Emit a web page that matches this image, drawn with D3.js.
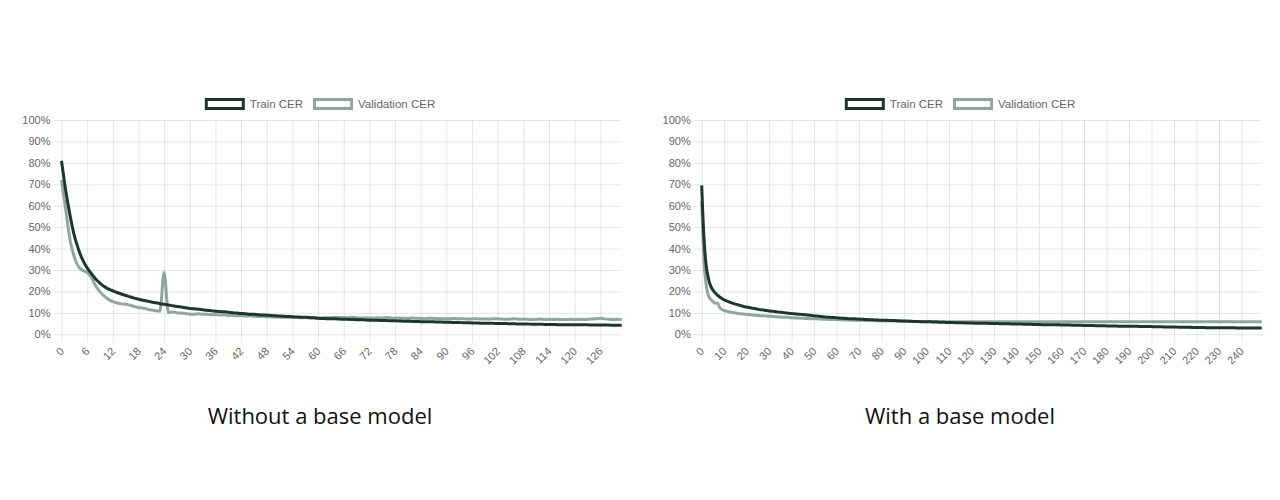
<!DOCTYPE html>
<html>
<head>
<meta charset="utf-8">
<script src="https://cdn.jsdelivr.net/npm/d3@7"></script>
<style>
  body {margin: 0; background: #fff;}
  svg {display: block;}
  .axis text {font-family: "Liberation Sans", Arial, sans-serif; font-size: 11px; fill: #666;}
  .legend text {font-family: "Liberation Sans", Arial, sans-serif; font-size: 11.5px; fill: #666;}
  .title {font-family: "Open Sans", sans-serif; font-size: 22px; fill: #111;}
</style>
</head>
<body>
<script>
// CER per epoch (%), left panel: trained from scratch
const trainNoBase = [
  81, 67, 55.5, 46, 39.5, 34.5, 31, 28.3, 25.8, 23.9,
  22.3, 21.1, 20.3, 19.5, 18.8, 18.1, 17.5, 16.9, 16.4, 15.9,
  15.5, 15.1, 14.7, 14.3, 14.0, 13.7, 13.3, 13.0, 12.7, 12.4,
  12.1, 11.9, 11.7, 11.5, 11.2, 11.0, 10.8, 10.6, 10.5, 10.3,
  10.1, 9.9, 9.7, 9.6, 9.4, 9.3, 9.1, 9.0, 8.9, 8.8,
  8.6, 8.5, 8.4, 8.3, 8.2, 8.1, 8.0, 7.9, 7.8, 7.7,
  7.5, 7.4, 7.3, 7.3, 7.2, 7.1, 7.0, 7.0, 6.9, 6.8,
  6.8, 6.7, 6.6, 6.6, 6.5, 6.4, 6.4, 6.3, 6.3, 6.2,
  6.1, 6.1, 6.0, 6.0, 5.9, 5.9, 5.8, 5.8, 5.7, 5.7,
  5.6, 5.6, 5.5, 5.5, 5.4, 5.4, 5.3, 5.3, 5.2, 5.2,
  5.1, 5.1, 5.0, 5.0, 5.0, 4.9, 4.9, 4.8, 4.8, 4.8,
  4.7, 4.7, 4.7, 4.6, 4.6, 4.6, 4.5, 4.5, 4.5, 4.5,
  4.4, 4.4, 4.4, 4.4, 4.3, 4.3, 4.3, 4.3, 4.3, 4.2,
  4.2, 4.2
]
const validNoBase = [
  72, 58, 44, 36, 31.5, 29.8, 28.8, 26.5, 22.5, 19.8,
  17.8, 16.3, 15.2, 14.6, 14.2, 14.0, 13.6, 13.0, 12.4, 12.3,
  11.8, 11.3, 11.0, 10.8, 28.8, 10.1, 10.4, 10.1, 9.9, 9.7,
  9.5, 9.4, 9.6, 9.3, 9.4, 9.1, 9.2, 9.0, 9.1, 8.8,
  8.9, 8.6, 8.7, 8.5, 8.6, 8.4, 8.3, 8.4, 8.2, 8.2,
  8.0, 8.1, 7.9, 7.9, 7.8, 7.8, 7.7, 7.8, 7.6, 7.7,
  7.6, 7.7, 7.8, 7.7, 7.9, 7.8, 7.8, 7.7, 7.9, 7.7,
  7.6, 7.7, 7.6, 7.5, 7.7, 7.6, 7.8, 7.6, 7.5, 7.6,
  7.5, 7.4, 7.6, 7.5, 7.4, 7.3, 7.5, 7.4, 7.3, 7.4,
  7.2, 7.3, 7.4, 7.2, 7.3, 7.1, 7.2, 7.3, 7.1, 7.2,
  7.1, 7.3, 7.2, 7.1, 7.0, 7.1, 7.2, 7.0, 7.1, 7.0,
  6.9, 7.0, 7.1, 6.9, 7.0, 6.9, 7.0, 6.9, 6.9, 7.0,
  6.9, 7.0, 6.9, 7.0, 7.1, 7.3, 7.5, 7.2, 7.0, 6.9,
  7.0, 6.9
]

// right panel: fine-tuned from a base model
const trainBase = [
  69.5, 45, 32, 26, 22.5, 20.6, 19.3, 18.3, 17.4, 16.7,
  16.1, 15.6, 15.2, 14.8, 14.4, 14.1, 13.8, 13.5, 13.2, 12.9,
  12.7, 12.5, 12.3, 12.1, 11.9, 11.7, 11.5, 11.4, 11.2, 11.1,
  10.9, 10.8, 10.7, 10.5, 10.4, 10.3, 10.2, 10.0, 9.9, 9.8,
  9.7, 9.6, 9.5, 9.4, 9.3, 9.2, 9.1, 9.0, 8.9, 8.8,
  8.6, 8.5, 8.4, 8.3, 8.2, 8.1, 8.0, 7.9, 7.8, 7.8,
  7.7, 7.6, 7.5, 7.5, 7.4, 7.3, 7.3, 7.2, 7.2, 7.1,
  7.1, 7.0, 7.0, 6.9, 6.9, 6.8, 6.8, 6.7, 6.7, 6.6,
  6.6, 6.6, 6.5, 6.5, 6.4, 6.4, 6.4, 6.3, 6.3, 6.2,
  6.2, 6.2, 6.1, 6.1, 6.0, 6.0, 6.0, 5.9, 5.9, 5.9,
  5.8, 5.8, 5.8, 5.7, 5.7, 5.7, 5.6, 5.6, 5.6, 5.5,
  5.5, 5.5, 5.5, 5.4, 5.4, 5.4, 5.4, 5.3, 5.3, 5.3,
  5.3, 5.2, 5.2, 5.2, 5.1, 5.1, 5.1, 5.1, 5.0, 5.0,
  5.0, 5.0, 5.0, 4.9, 4.9, 4.9, 4.9, 4.9, 4.8, 4.8,
  4.8, 4.8, 4.8, 4.7, 4.7, 4.7, 4.7, 4.6, 4.6, 4.6,
  4.6, 4.5, 4.5, 4.5, 4.5, 4.4, 4.4, 4.4, 4.4, 4.4,
  4.3, 4.3, 4.3, 4.3, 4.3, 4.2, 4.2, 4.2, 4.2, 4.2,
  4.1, 4.1, 4.1, 4.1, 4.1, 4.0, 4.0, 4.0, 4.0, 4.0,
  3.9, 3.9, 3.9, 3.9, 3.9, 3.8, 3.8, 3.8, 3.8, 3.8,
  3.7, 3.7, 3.7, 3.7, 3.7, 3.6, 3.6, 3.6, 3.6, 3.6,
  3.6, 3.5, 3.5, 3.5, 3.5, 3.5, 3.4, 3.4, 3.4, 3.4,
  3.4, 3.4, 3.3, 3.3, 3.3, 3.3, 3.3, 3.3, 3.2, 3.2,
  3.2, 3.2, 3.2, 3.2, 3.1, 3.1, 3.1, 3.1, 3.1, 3.1,
  3.1, 3.0, 3.0, 3.0, 3.0, 3.0, 3.0, 3.0, 2.9, 2.9,
  2.9, 2.9, 2.9, 2.9, 2.9, 2.9, 2.9, 2.9, 2.9, 2.9
]
const validBase = [
  62, 34, 23, 18, 16.3, 15.3, 14.5, 14.6, 12.5, 11.6,
  11.1, 10.8, 10.5, 10.3, 10.1, 9.9, 9.8, 9.6, 9.5, 9.4,
  9.3, 9.2, 9.1, 9.0, 8.9, 8.8, 8.7, 8.7, 8.6, 8.5,
  8.4, 8.4, 8.3, 8.2, 8.1, 8.1, 8.0, 7.9, 7.9, 7.8,
  7.7, 7.7, 7.6, 7.6, 7.5, 7.5, 7.4, 7.4, 7.3, 7.3,
  7.2, 7.2, 7.1, 7.1, 7.0, 7.0, 7.0, 6.9, 6.9, 6.9,
  6.8, 6.8, 6.8, 6.7, 6.7, 6.7, 6.6, 6.6, 6.6, 6.5,
  6.5, 6.5, 6.5, 6.4, 6.4, 6.4, 6.4, 6.3, 6.3, 6.3,
  6.3, 6.3, 6.2, 6.2, 6.2, 6.2, 6.2, 6.1, 6.1, 6.1,
  6.1, 6.1, 6.1, 6.0, 6.0, 6.0, 6.0, 6.0, 6.0, 6.0,
  5.9, 6.0, 5.9, 5.9, 6.0, 5.9, 5.9, 5.8, 5.9, 5.9,
  5.9, 5.8, 5.9, 5.9, 5.8, 5.9, 5.9, 5.9, 5.8, 5.9,
  5.9, 5.8, 5.8, 5.9, 5.9, 5.8, 5.9, 5.8, 5.9, 5.8,
  5.8, 5.9, 5.8, 5.9, 5.8, 5.8, 5.9, 5.8, 5.8, 5.9,
  5.8, 5.9, 5.8, 5.8, 5.9, 5.8, 5.9, 5.9, 5.8, 5.8,
  5.9, 5.8, 5.8, 5.9, 5.8, 5.9, 5.8, 5.9, 5.8, 5.8,
  5.9, 5.8, 5.9, 5.8, 5.8, 5.9, 5.8, 5.8, 5.9, 5.8,
  5.8, 5.9, 5.8, 5.9, 5.8, 5.8, 5.9, 5.8, 5.9, 5.8,
  5.8, 5.9, 5.8, 5.8, 5.9, 5.8, 5.9, 5.8, 5.8, 5.9,
  5.8, 5.8, 5.9, 5.8, 5.9, 5.8, 5.8, 5.9, 5.8, 5.9,
  5.8, 5.9, 5.8, 5.8, 5.9, 5.8, 5.9, 5.8, 5.8, 5.9,
  5.8, 5.9, 5.8, 5.9, 5.8, 5.8, 5.9, 5.8, 5.9, 5.8,
  5.8, 5.9, 5.8, 5.9, 5.8, 5.9, 5.8, 5.8, 5.9, 5.8,
  5.9, 5.8, 5.8, 5.9, 5.8, 5.9, 5.8, 5.9, 5.8, 5.8,
  5.9, 5.8, 5.9, 5.8, 5.8, 5.9, 5.8, 5.9, 5.8, 5.8
]

const yTicks = [0, 10, 20, 30, 40, 50, 60, 70, 80, 90, 100]
const seriesNames = ['Train CER', 'Validation CER']
const seriesColors = ['#1d372f', '#8ea89c']
const panelTitles = ['Without a base model', 'With a base model']

const svg = d3.select('body').append('svg').attr('width', 1280).attr('height', 500)

const plotTop = 120, plotBottom = 334.3, gridLen = 8

function drawPanel(train, valid, left, right, center, step, title) {
  const g = svg.append('g')
  const epochs = d3.range(train.length)
  const x = d3.scalePoint().domain(epochs).range([left, right])
  const y = d3.scaleLinear().domain([0, 100]).range([plotBottom, plotTop])

  // y grid + labels
  const ya = g.append('g').attr('class', 'axis')
  .attr('transform', `translate(${right},0)`)
  .call(d3.axisLeft(y).tickValues(yTicks).tickSize(right - left + gridLen).tickPadding(3).tickFormat(d => d + '%'))
  ya.select('.domain').remove()
  ya.selectAll('line').attr('stroke', 'rgba(0,0,0,0.1)')

  // x grid + labels
  const xa = g.append('g').attr('class', 'axis')
  .attr('transform', `translate(0,${plotTop})`)
  .call(d3.axisBottom(x).tickValues(epochs.filter(d => d % step === 0)).tickSize(plotBottom - plotTop + gridLen))
  xa.select('.domain').remove()
  xa.selectAll('line').attr('stroke', 'rgba(0,0,0,0.1)')
  xa.selectAll('text')
  .attr('y', 0).attr('dy', '0.35em')
  .attr('text-anchor', 'end')
  .attr('transform', `translate(0,${plotBottom - plotTop + 15}) rotate(-45)`)

  const line = d3.line().x((d, i) => x(i)).y(d => y(d)).curve(d3.curveMonotoneX)
  ;[valid, train].forEach((s, k) => {
    g.append('path').datum(s)
    .attr('fill', 'none')
    .attr('stroke', seriesColors[1 - k])
    .attr('stroke-width', 3)
    .attr('stroke-linejoin', 'round')
    .attr('d', line)
  })

  // legend
  const lg = g.append('g').attr('class', 'legend')
  let cx = 0
  seriesNames.forEach((name, i) => {
    lg.append('rect')
    .attr('x', cx + 1.5).attr('y', 99.5)
    .attr('width', 37).attr('height', 9)
    .attr('fill', '#fff').attr('stroke', seriesColors[i]).attr('stroke-width', 3)
    const t = lg.append('text').attr('x', cx + 45).attr('y', 104).attr('dy', '0.35em').text(name)
    cx += 45 + t.node().getComputedTextLength() + 10
  })
  lg.attr('transform', `translate(${center - (cx - 10) / 2},0)`)

  svg.append('text').attr('class', 'title')
  .attr('x', center).attr('y', 424).attr('text-anchor', 'middle')
  .text(title)
}

drawPanel(trainNoBase, validNoBase, 61.5, 621.7, 320, 6, panelTitles[0])
drawPanel(trainBase, validBase, 701.7, 1261.7, 960, 10, panelTitles[1])
</script>
</body>
</html>
